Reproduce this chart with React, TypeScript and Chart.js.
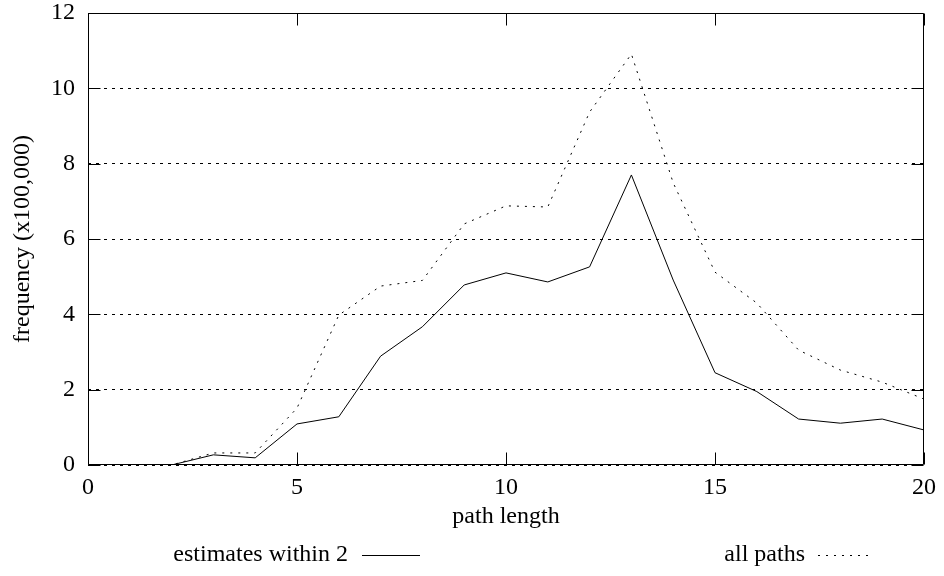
import React, { useEffect, useRef } from "react";
import { Chart, registerables } from "chart.js";

Chart.register(...registerables);

const pathLengths = [0, 1, 2, 3, 4, 5, 6, 7, 8, 9, 10, 11, 12, 13, 14, 15, 16, 17, 18, 19, 20];
const estimatesWithin2 = [0, 0, 0, 0.27, 0.19, 1.09, 1.28, 2.89, 3.67, 4.78, 5.1, 4.86, 5.26, 7.7, 4.91, 2.45, 1.95, 1.22, 1.11, 1.22, 0.93];
const allPaths = [0, 0, 0, 0.32, 0.32, 1.51, 3.98, 4.75, 4.9, 6.4, 6.88, 6.85, 9.37, 10.91, 7.49, 5.12, 4.3, 3.05, 2.52, 2.2, 1.75];
const xTicks = [0, 5, 10, 15, 20];
const yTicks = [0, 2, 4, 6, 8, 10, 12];
const seriesLabels = ["estimates within 2", "all paths"];
const xTitle = "path length";
const yTitle = "frequency (x100,000)";

const FONT = '"Liberation Serif", "Times New Roman", serif';
const DASH = [2, 6];

const framePlugin = {
  id: "frameAndLegend",
  afterDraw(chart: any) {
    const { ctx, chartArea: a, scales } = chart;
    const xs = scales.x;
    const ys = scales.y;
    const L = Math.round(a.left) + 0.5;
    const R = Math.round(a.right) - 0.5;
    const T = Math.round(a.top) + 0.5;
    const B = Math.round(a.bottom) - 0.5;
    const tl = 12;
    ctx.save();
    ctx.strokeStyle = "#000";
    ctx.lineWidth = 1;
    ctx.setLineDash([]);
    ctx.beginPath();
    ctx.rect(L, T, R - L, B - T);
    for (const v of xTicks) {
      const px = Math.round(xs.getPixelForValue(v)) + 0.5;
      ctx.moveTo(px, B);
      ctx.lineTo(px, B - tl);
      ctx.moveTo(px, T);
      ctx.lineTo(px, T + tl);
    }
    for (const v of yTicks) {
      const py = Math.round(ys.getPixelForValue(v)) + 0.5;
      ctx.moveTo(L, py);
      ctx.lineTo(L + tl, py);
      ctx.moveTo(R, py);
      ctx.lineTo(R - tl, py);
    }
    ctx.stroke();

    // legend
    ctx.font = `24px ${FONT}`;
    ctx.fillStyle = "#000";
    ctx.textAlign = "right";
    ctx.textBaseline = "middle";
    ctx.fillText(seriesLabels[0], 348, 555);
    ctx.beginPath();
    ctx.moveTo(362, 555.5);
    ctx.lineTo(420, 555.5);
    ctx.stroke();
    ctx.fillText(seriesLabels[1], 805, 555);
    ctx.setLineDash(DASH);
    ctx.beginPath();
    ctx.moveTo(818, 555.5);
    ctx.lineTo(872, 555.5);
    ctx.stroke();
    ctx.restore();
  },
};

export default function App() {
  const ref = useRef<HTMLCanvasElement | null>(null);

  useEffect(() => {
    if (!ref.current) return;
    const chart = new Chart(ref.current, {
      type: "line",
      data: {
        datasets: [
          {
            label: seriesLabels[0],
            data: pathLengths.map((x, i) => ({ x, y: estimatesWithin2[i] })),
            borderColor: "#000",
            borderWidth: 1,
            pointRadius: 0,
            fill: false,
            tension: 0,
          },
          {
            label: seriesLabels[1],
            data: pathLengths.map((x, i) => ({ x, y: allPaths[i] })),
            borderColor: "#000",
            borderWidth: 1,
            borderDash: DASH,
            pointRadius: 0,
            fill: false,
            tension: 0,
          },
        ],
      },
      options: {
        responsive: false,
        animation: false,
        devicePixelRatio: 1,
        layout: { padding: { top: 13, right: 20, left: 0, bottom: 0 } },
        plugins: {
          legend: { display: false },
          tooltip: { enabled: false },
        },
        scales: {
          x: {
            type: "linear",
            min: 0,
            max: 20,
            afterBuildTicks: (s: any) => {
              s.ticks = xTicks.map((v) => ({ value: v }));
            },
            afterFit: (s: any) => {
              s.height = 111;
              s.paddingLeft = 0;
              s.paddingRight = 0;
            },
            grid: { display: false, drawTicks: false },
            border: { display: false },
            ticks: {
              color: "#000",
              font: { family: FONT, size: 24 },
              padding: 8,
              maxRotation: 0,
            },
            title: {
              display: true,
              text: xTitle,
              color: "#000",
              font: { family: FONT, size: 24 },
              padding: { top: 0, bottom: 45 },
            },
          },
          y: {
            type: "linear",
            min: 0,
            max: 12,
            afterBuildTicks: (s: any) => {
              s.ticks = yTicks.map((v) => ({ value: v }));
            },
            afterFit: (s: any) => {
              s.width = 88;
              s.paddingTop = 0;
              s.paddingBottom = 0;
            },
            grid: {
              color: "#000",
              lineWidth: 1,
              drawTicks: false,
              tickLength: 0,
            },
            border: { display: false, dash: [3, 5] },
            ticks: {
              color: "#000",
              font: { family: FONT, size: 24 },
              padding: 13,
            },
            title: {
              display: true,
              text: yTitle,
              color: "#000",
              font: { family: FONT, size: 24 },
              padding: { top: 8, bottom: 0 },
            },
          },
        },
      },
      plugins: [framePlugin],
    });
    return () => chart.destroy();
  }, []);

  return (
    <div style={{ position: "absolute", left: 0, top: 0, width: 944, height: 576, background: "#fff" }}>
      <canvas ref={ref} width={944} height={576} style={{ display: "block" }} />
    </div>
  );
}
